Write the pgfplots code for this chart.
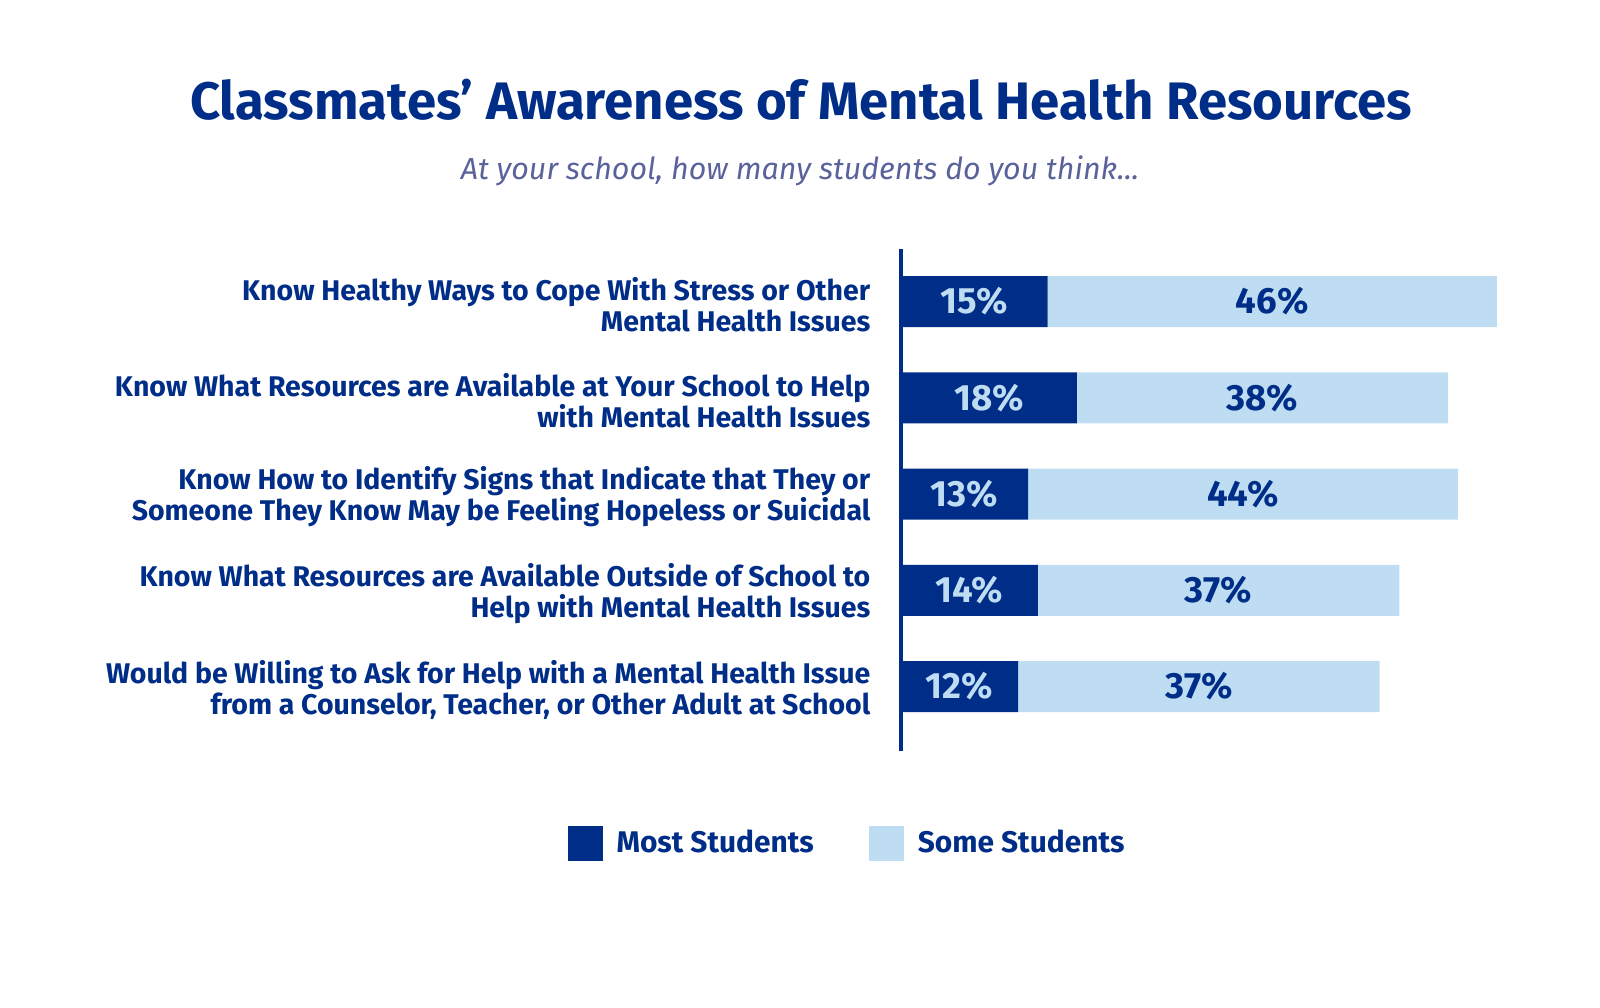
\documentclass[border=0pt]{standalone}
\usepackage{fontspec}
\setmainfont{Fira Sans}
\usepackage{pgfplots}
\pgfplotsset{compat=1.18}
\definecolor{navy}{RGB}{0,45,135}
\definecolor{skyb}{RGB}{191,221,242}
\definecolor{subc}{RGB}{90,98,155}

\begin{document}
\begin{tikzpicture}
\useasboundingbox (0,0) rectangle (16,10.07);
% title and subtitle
\node[anchor=base, inner sep=0pt, text=navy,
  font=\fontsize{15pt}{17pt}\selectfont\bfseries] at (8.01,8.87)
  {Classmates’ Awareness of Mental Health Resources};
\node[anchor=base, inner sep=0pt, text=subc,
  font=\fontsize{8.65pt}{10pt}\selectfont\itshape] at (8.00,8.27)
  {At your school, how many students do you think...};

\begin{axis}[
  at={(9.01cm,2.56cm)}, anchor=south west,
  x=0.0977cm, y=0.9625cm,
  xmin=0, xmax=65, ymin=-0.670, ymax=4.545,
  xbar stacked, bar width=0.51cm,
  axis x line=none, axis y line*=left,
  axis line style={-, draw=navy, line width=1pt},
  xtick=\empty,
  ytick={0,1,2,3,4},
  yticklabels={
    {Would be Willing to Ask for Help with a Mental Health Issue\\from a Counselor, Teacher, or Other Adult at School},
    {Know What Resources are Available Outside of School to\\Help with Mental Health Issues},
    {Know How to Identify Signs that Indicate that They or\\Someone They Know May be Feeling Hopeless or Suicidal},
    {Know What Resources are Available at Your School to Help\\with Mental Health Issues},
    {Know Healthy Ways to Cope With Stress or Other\\Mental Health Issues}},
  major tick length=0pt, ytick style={draw=none},
  yticklabel style={font=\fontsize{8.1pt}{8.8pt}\selectfont\bfseries, text=navy,
    align=right, inner sep=0pt, xshift=-0.30cm, yshift=-0.03cm},
  % label = the segment's own value
  visualization depends on={rawx \as \segval},
  nodes near coords={%
    \pgfmathprintnumber[assume math mode=true,fixed,precision=0]{\segval}\%},
  every node near coord/.append style={anchor=center, inner sep=0pt,
    font=\fontsize{10.4pt}{12pt}\selectfont\bfseries},
  clip=false,
  legend columns=2,
  legend style={at={(-0.0866,-0.185)}, anchor=center, draw=none, fill=none,
    font=\fontsize{8.5pt}{10pt}\selectfont\bfseries, text=navy,
    nodes={inner sep=0pt},
    /tikz/every even column/.append style={column sep=0.55cm}},
  legend image code/.code={\fill[#1] (0cm,-0.175cm) rectangle (0.35cm,0.175cm);
    \path (0.49cm,0cm);},
]
\addplot[fill=navy, draw=none, every node near coord/.append style={text=skyb}]
  coordinates {(15,4) (18,3) (13,2) (14,1) (12,0)};
\addlegendentry{Most Students}
\addplot[fill=skyb, draw=none, every node near coord/.append style={text=navy}]
  coordinates {(46,4) (38,3) (44,2) (37,1) (37,0)};
\addlegendentry{Some Students}
\end{axis}
\end{tikzpicture}
\end{document}
